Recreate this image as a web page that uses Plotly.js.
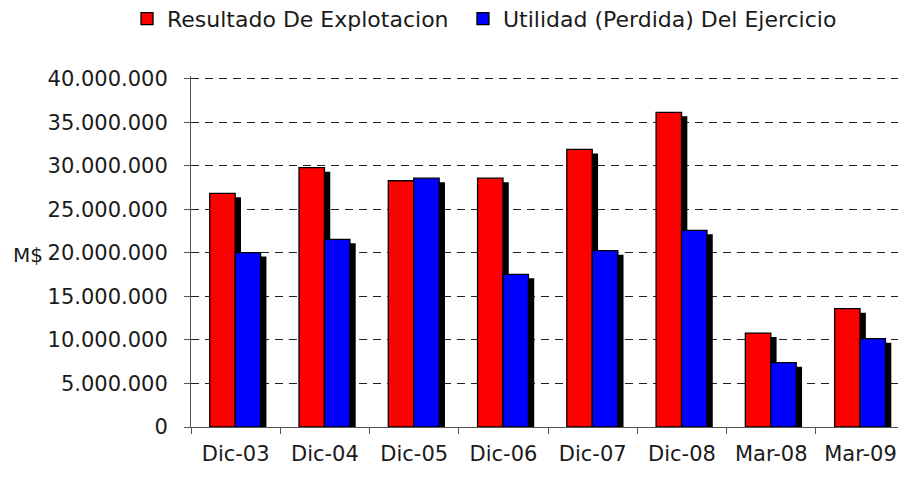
<!DOCTYPE html>
<html>
<head>
<meta charset="utf-8">
<script src="https://cdn.plot.ly/plotly-3.0.1.min.js"></script>
<style>html,body{margin:0;padding:0;background:#fff;}#chart{width:898px;height:477px;}</style>
</head>
<body>
<div id="chart"></div>
<script>
// ---- data ----
const categories = ["Dic-03", "Dic-04", "Dic-05", "Dic-06", "Dic-07", "Dic-08", "Mar-08", "Mar-09"];
const resultadoExplotacion = [26860000, 29800000, 28300000, 28600000, 31900000, 36170000, 10800000, 13600000];
const utilidadEjercicio = [20050000, 21570000, 28600000, 17550000, 20270000, 22600000, 7390000, 10150000];
const seriesNames = ["Resultado De Explotacion", "Utilidad (Perdida) Del Ejercicio"];
const yTickValues = [0, 5000000, 10000000, 15000000, 20000000, 25000000, 30000000, 35000000, 40000000];

// ---- styling / geometry ----
const FONT = "DejaVu Sans";
const TXT = "#1a1a1a";
const BAR_W = 0.285;
const RED_OFF = -0.29, BLUE_OFF = -0.005;
const SH_DX = 0.065;          // shadow shift right (category units)
const SH_DROP = 460000;       // shadow shift down (data units, ~4px)

const shadow = (arr) => arr.map(v => Math.max(0, v - SH_DROP));

const traces = [
  {type: "bar", x: categories, y: shadow(resultadoExplotacion), width: BAR_W, offset: RED_OFF + SH_DX,
   marker: {color: "#000", line: {width: 0}}, showlegend: false, hoverinfo: "skip"},
  {type: "bar", x: categories, y: shadow(utilidadEjercicio), width: BAR_W, offset: BLUE_OFF + SH_DX,
   marker: {color: "#000", line: {width: 0}}, showlegend: false, hoverinfo: "skip"},
  {type: "bar", name: seriesNames[0], x: categories, y: resultadoExplotacion, width: BAR_W, offset: RED_OFF,
   marker: {color: "#FF0000", line: {color: "#000", width: 1.3}}, legend: "legend"},
  {type: "bar", name: seriesNames[1], x: categories, y: utilidadEjercicio, width: BAR_W, offset: BLUE_OFF,
   marker: {color: "#0000FF", line: {color: "#000", width: 1.3}}, legend: "legend2"}
];

const legendStyle = (x) => ({
  orientation: "h", x: x, xanchor: "left", y: 1.163, yanchor: "middle",
  font: {family: FONT, size: 22, color: TXT}, itemwidth: 30, bgcolor: "rgba(0,0,0,0)"
});

const layout = {
  width: 898, height: 477,
  margin: {l: 191, r: 0, t: 76, b: 50, pad: 0, autoexpand: false},
  paper_bgcolor: "#fff", plot_bgcolor: "#fff",
  barmode: "overlay",
  separators: ",.",
  font: {family: FONT, size: 21, color: TXT},
  showlegend: true,
  legend: legendStyle(-0.0905),
  legend2: legendStyle(0.3847),
  xaxis: {
    type: "category", range: [-0.5, 7.42], automargin: false,
    showline: true, linecolor: "#555", linewidth: 1,
    ticks: "outside", ticklen: 6, tickcolor: "#555", tickson: "boundaries",
    showgrid: false, ticklabelstandoff: 8,
    tickfont: {family: FONT, size: 21, color: TXT}, fixedrange: true
  },
  yaxis: {
    range: [0, 40340000], tickvals: yTickValues, tickformat: ",d", automargin: false,
    showline: true, linecolor: "#555", linewidth: 1,
    ticks: "outside", ticklen: 6, tickcolor: "#555",
    showgrid: true, gridcolor: "#222", gridwidth: 1, griddash: "8px,6px",
    zeroline: false, ticklabelstandoff: 12,
    tickfont: {family: FONT, size: 21, color: TXT}, fixedrange: true
  },
  annotations: [{
    text: "M$", xref: "paper", yref: "paper", x: -0.23, y: 0.49, xanchor: "center", yanchor: "middle",
    showarrow: false, font: {family: FONT, size: 20, color: TXT}
  }]
};

Plotly.newPlot("chart", traces, layout, {displayModeBar: false, staticPlot: true});
</script>
</body>
</html>
